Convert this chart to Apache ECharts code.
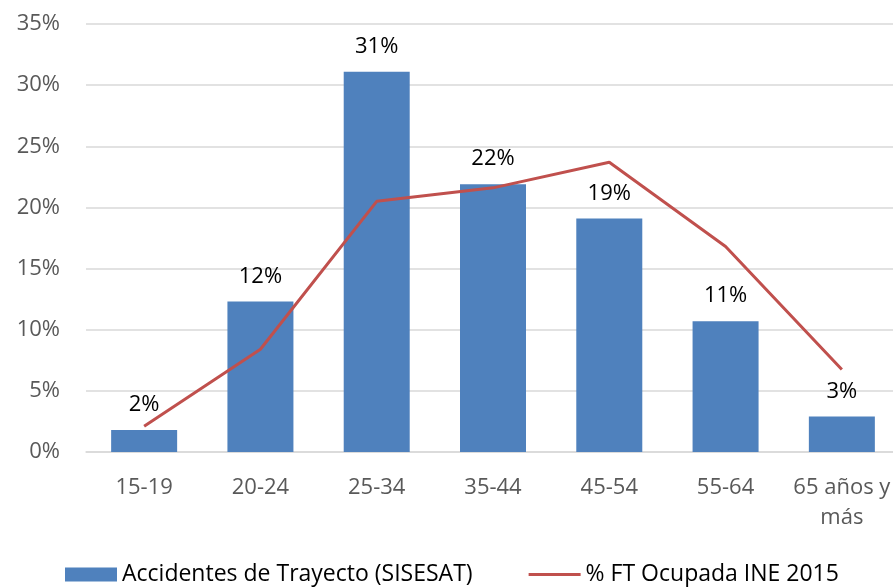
<!doctype html>
<html>
	<head>
		<meta charset="utf-8">
		<title>Accidentes de Trayecto</title>
		<script src="https://cdn.jsdelivr.net/npm/echarts@6/dist/echarts.min.js"></script>
		<style>
			html, body { margin: 0; padding: 0; background: #fff; }
			#main { width: 893px; height: 587px; }
		</style>
	</head>
	<body>
		<div id="main"></div>
		<script>
			// datos
			var categorias = ['15-19', '20-24', '25-34', '35-44', '45-54', '55-64', '65 años y\nmás'];
			var accidentes = [1.8, 12.3, 31.1, 21.9, 19.1, 10.7, 2.9];
			var ocupada = [2.1, 8.4, 20.5, 21.6, 23.7, 16.8, 6.75];
			var ticksY = [0, 5, 10, 15, 20, 25, 30, 35];

			var fuente = 'Open Sans';
			var myChart = echarts.init(document.getElementById('main'));

			var option = {
				animation: false,
				textStyle: { fontFamily: fuente },
				grid: {
					left: 86,
					right: -7,
					top: 24,
					bottom: 135,
					containLabel: false,
					outerBoundsMode: 'none'
				},
				legend: {
					top: 563,
					left: 65,
					padding: 0,
					itemWidth: 52,
					itemHeight: 14,
					itemGap: 56,
					textStyle: { fontSize: 23, color: '#000', fontFamily: fuente },
					data: [
						{ name: 'Accidentes de Trayecto (SISESAT)', icon: 'rect' },
						{ name: '% FT Ocupada INE 2015', icon: 'path://M0,0H52V3H0Z' }
					]
				},
				xAxis: {
					type: 'category',
					data: categorias,
					axisLine: { lineStyle: { color: '#D9D9D9', width: 1.5 } },
					axisTick: { show: false },
					axisLabel: {
						color: '#595959',
						fontSize: 22,
						margin: 21,
						lineHeight: 30,
						interval: 0
					}
				},
				yAxis: {
					type: 'value',
					min: ticksY[0],
					max: ticksY[ticksY.length - 1],
					interval: 5,
					axisLine: { show: false },
					axisTick: { show: false },
					splitLine: { lineStyle: { color: '#D9D9D9', width: 1.5 } },
					axisLabel: {
						color: '#595959',
						fontSize: 22,
						margin: 26,
						formatter: '{value}%'
					}
				},
				series: [{
					name: 'Accidentes de Trayecto (SISESAT)',
					type: 'bar',
					data: accidentes,
					barWidth: 66,
					itemStyle: { color: '#4F81BD' },
					label: {
						show: true,
						position: 'top',
						distance: 14,
						fontSize: 22,
						color: '#000',
						formatter: function (p) { return Math.round(p.value) + '%'; }
					}
				}, {
					name: '% FT Ocupada INE 2015',
					type: 'line',
					data: ocupada,
					symbol: 'none',
					lineStyle: { color: '#C0504D', width: 3 },
					itemStyle: { color: '#C0504D' }
				}]
			};
			myChart.setOption(option);
		</script>
	</body>
</html>
